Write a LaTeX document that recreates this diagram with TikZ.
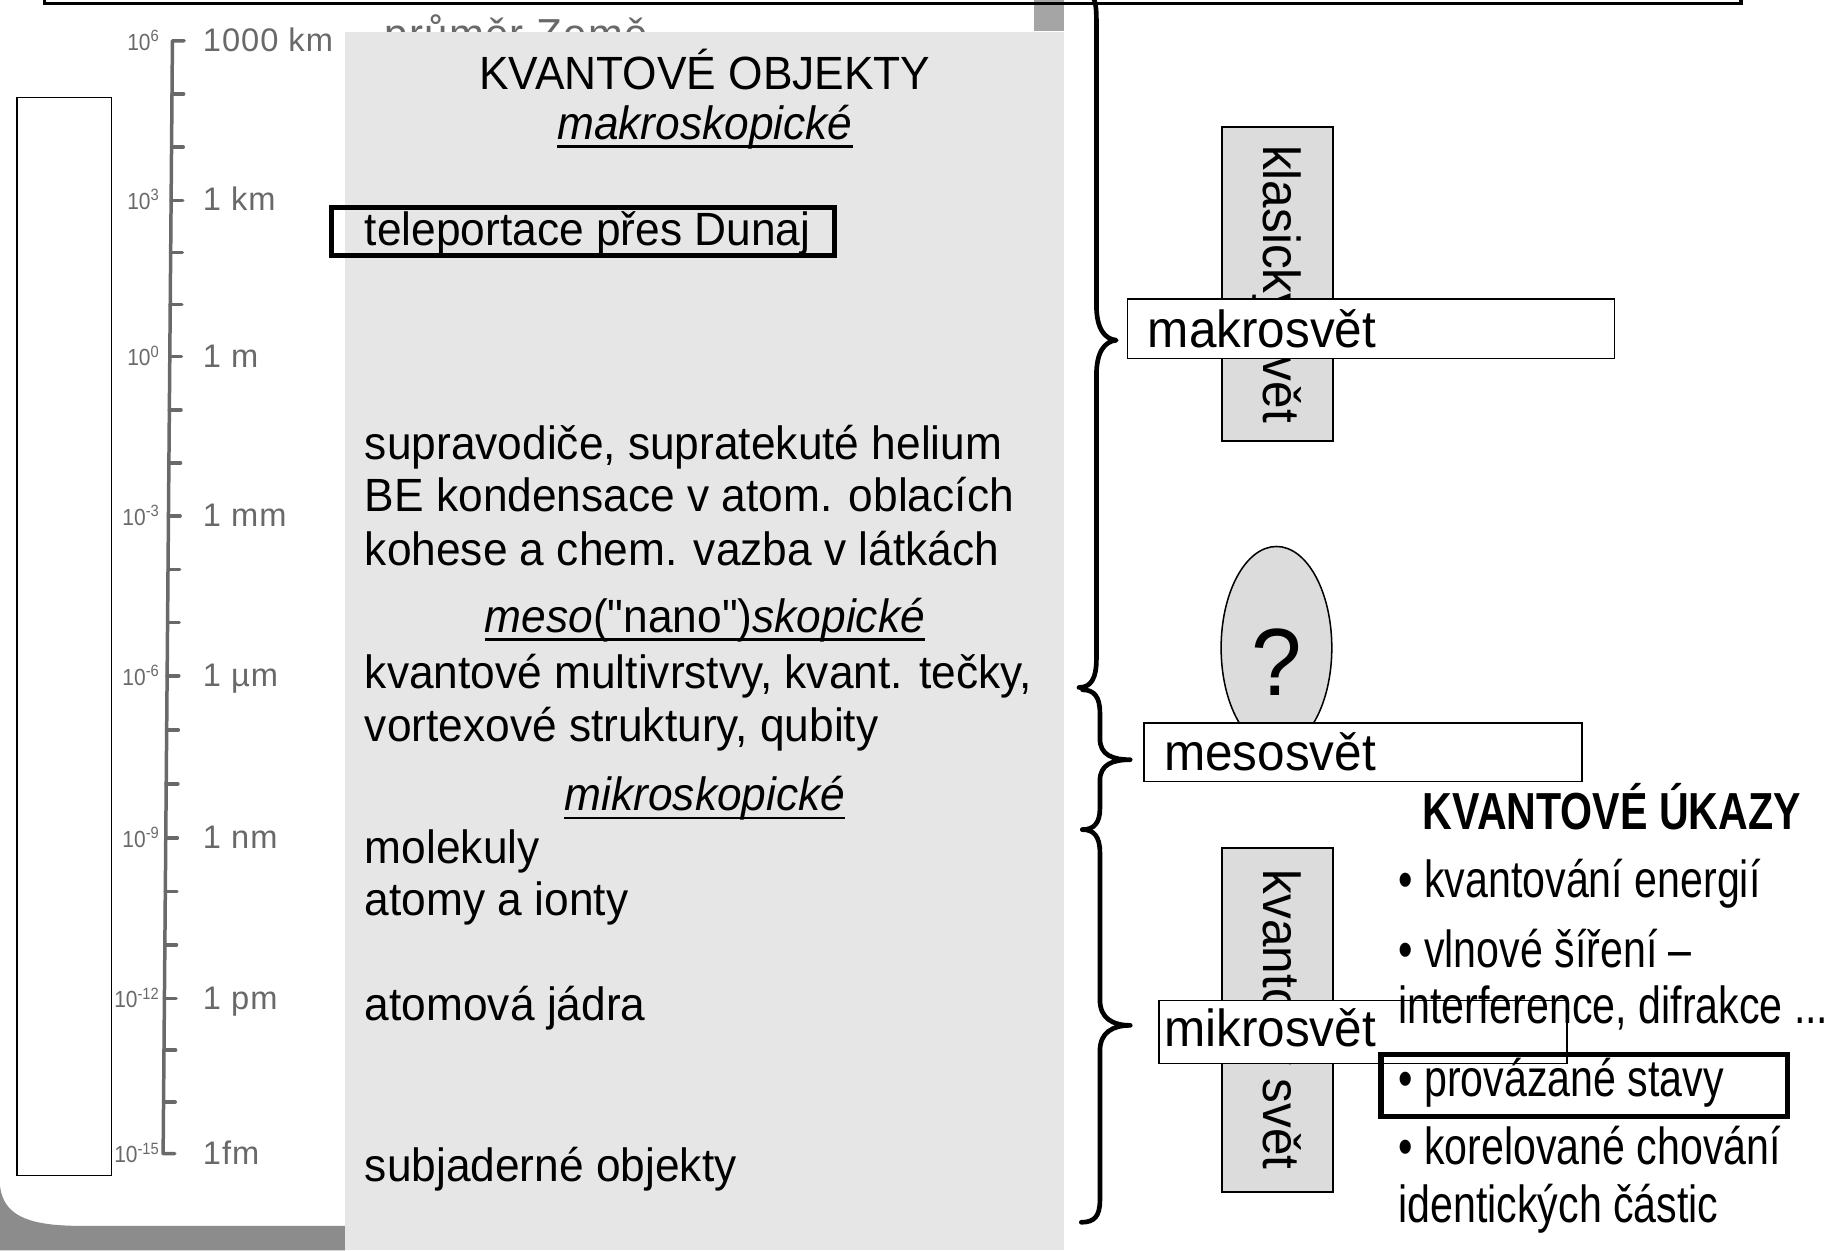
\documentclass[tikz,border=0pt]{standalone}
\usepackage{fontspec}
\setmainfont{Liberation Sans}
\newfontfamily\slidefont{Liberation Sans}[FakeStretch=0.95]
\newfontfamily\narrowfont{Liberation Sans}[FakeStretch=0.79]
\newfontfamily\handfont{Liberation Sans}[LetterSpace=3]
\newfontfamily\handexpfont{Liberation Sans}[FakeStretch=0.9]
\usetikzlibrary{shapes.geometric}

\definecolor{panelgray}{RGB}{230,230,230}
\definecolor{boxgray}{RGB}{220,220,220}
\definecolor{handgray}{RGB}{105,105,105}
\definecolor{edgegray}{RGB}{140,140,140}
\definecolor{stripgray}{RGB}{165,165,165}

\begin{document}
\begin{tikzpicture}[x=1pt, y=-1pt,
  paneltext/.style={font=\slidefont\fontsize{40}{45}\selectfont, anchor=base west, inner sep=0},
  panelhead/.style={paneltext, anchor=base},
  boxlabel/.style={font=\slidefont\fontsize{44.7}{50}\selectfont, anchor=base west, inner sep=0},
  listtext/.style={font=\narrowfont\fontsize{44.7}{50}\selectfont, anchor=base west, inner sep=0},
  verttext/.style={font=\slidefont\fontsize{44.7}{50}\selectfont, rotate=-90, inner sep=0},
  hand/.style={font=\handfont\fontsize{28}{28}\selectfont, text=handgray, inner sep=0},
  handexp/.style={font=\handexpfont\fontsize{20}{20}\selectfont, text=handgray, inner sep=0, anchor=base east},
  ruler/.style={draw=handgray, line width=3, line cap=round, line join=round},
  whitebox/.style={draw, fill=white, line width=1.3, anchor=north west, inner sep=0},
  graybox/.style={draw, fill=boxgray, line width=1.5, anchor=north west, inner sep=0},
  heavybox/.style={draw, line width=4.5, anchor=north west, inner sep=0},
  bracestroke/.style={line width=4, line cap=round, line join=round},
  underl/.style={line width=2.4}
]
\useasboundingbox (0,0) rectangle (1568,1073);
\fill[white] (0,0) rectangle (1568,1073);

% paper edge in the lower left corner
\fill[edgegray] (0,1018) .. controls (3,1042) and (22,1051) .. (62,1052)
  -- (296,1052) -- (296,1073) -- (0,1073) -- cycle;
\fill[stripgray] (887,0) rectangle (913,27);

% empty bar on the left
\node[draw, fill=white, line width=1.5, minimum width=81, minimum height=925,
      anchor=north west, inner sep=0] (leftbar) at (14,83) {};

% hand-drawn length scale
\node[hand, anchor=base west, font=\handfont\fontsize{36}{36}\selectfont] (earth) at (330,42) {průměr Země};
\draw[ruler] (158,35) -- (148,35) -- (140,990) -- (150,990);
\foreach \t in {80.7,126.3,172,216.7,261.3,306,351.7,397.3,443,488.7,534.3,580,626.3,672.7,719,765,811,857,901.3,945.7}
  \draw[ruler] ({148-8*(\t-35)/955},\t) -- ++(10,0);
\foreach \yy/\ee [count=\i] in {35/6,172/3,306/0,443/-3,580/-6,719/-9,857/-12,990/-15}
  \node[handexp] (exp\i) at (137,\yy+8) {10\textsuperscript{\ee}};
\foreach \yy/\uu [count=\i] in {35/1000 km,172/1 km,306/1 m,443/1 mm,580/1 µm,719/1 nm,857/1 pm,990/1fm}
  \node[hand, anchor=base west] (unit\i) at (174,\yy+9) {\uu};

% list of quantum objects
\node[fill=panelgray, minimum width=617, minimum height=1046, anchor=north west, inner sep=0] (panel) at (296,27) {};
\node[panelhead] (objhead) at (605,77) {KVANTOVÉ OBJEKTY};
\node[panelhead] (hmakro) at (605,120) {\itshape makroskopické};
\draw[underl] ([yshift=-6]hmakro.base west) -- ([yshift=-6]hmakro.base east);
\node[paneltext] (tele) at (313,211) {teleportace přes Dunaj};
\node[heavybox, minimum width=432, minimum height=41] (telebox) at (282,176) {};
\node[paneltext] (o1) at (313,394) {supravodiče, supratekuté helium};
\node[paneltext] (o2) at (313,439) {BE kondensace v atom. oblacích};
\node[paneltext] (o3) at (313,485) {kohese a chem. vazba v látkách};
\node[panelhead] (hmeso) at (605,543) {{\itshape meso}("nano"){\itshape skopické}};
\draw[underl] ([yshift=-6]hmeso.base west) -- ([yshift=-6]hmeso.base east);
\node[paneltext] (o4) at (313,591) {kvantové multivrstvy, kvant. tečky,};
\node[paneltext] (o5) at (313,636) {vortexové struktury, qubity};
\node[panelhead] (hmikro) at (605,696) {\itshape mikroskopické};
\draw[underl] ([yshift=-6]hmikro.base west) -- ([yshift=-6]hmikro.base east);
\node[paneltext] (o6) at (313,741) {molekuly};
\node[paneltext] (o7) at (313,786) {atomy a ionty};
\node[paneltext] (o8) at (313,876) {atomová jádra};
\node[paneltext] (o9) at (313,1014) {subjaderné objekty};

% frame edge along the top
\draw[line width=3] (38,-5) -- (38,3) -- (1494,3) -- (1494,-5);

% braces grouping the scale ranges
\draw[bracestroke] (930,-6) .. controls (940,-6) and (941,2) .. (941,20) -- (941,262)
  .. controls (941,282) and (948,291) .. (958,292)
  .. controls (948,293) and (941,302) .. (941,322) -- (941,565)
  .. controls (941,583) and (936,590) .. (926,590);
\draw[bracestroke] (929,592) .. controls (939,592) and (944,598) .. (944,612) -- (944,634)
  .. controls (944,648) and (955,652) .. (970,652)
  .. controls (955,652) and (944,656) .. (944,670) -- (944,694)
  .. controls (944,706) and (939,712) .. (929,712);
\draw[bracestroke] (929,712) .. controls (939,712) and (944,718) .. (944,732) -- (944,858)
  .. controls (944,874) and (955,880) .. (970,880)
  .. controls (955,880) and (944,886) .. (944,902) -- (944,1030)
  .. controls (944,1044) and (939,1049) .. (928,1049);

% classical / quantum world columns
\node[graybox, minimum width=95, minimum height=270] (klasbox) at (1048,108) {};
\node[verttext] (klastxt) at (klasbox.center) {klasický svět};
\node[graybox, minimum width=95, minimum height=295] (kvantbox) at (1048,727) {};
\node[verttext] (kvanttxt) at (kvantbox.center) {kvantový svět};
\node[ellipse, draw, fill=boxgray, line width=1.3, minimum width=95, minimum height=174, inner sep=0] (oval) at (1095.5,556) {};
\node[font=\slidefont\fontsize{82}{82}\selectfont, anchor=base, inner sep=0] (qmark) at (1096,597) {?};

% world labels
\node[whitebox, minimum width=418, minimum height=51] (makrobox) at (967,256) {};
\node[boxlabel] (makrotxt) at (985,298) {makrosvět};
\node[whitebox, minimum width=376, minimum height=50] (mesobox) at (981,620) {};
\node[boxlabel] (mesotxt) at (999,661) {mesosvět};
\node[whitebox, minimum width=350, minimum height=54] (mikrobox) at (994,858) {};
\node[boxlabel] (mikrotxt) at (999,898) {mikrosvět};

% quantum phenomena
\node[listtext] (ukazy) at (1221,712) {\bfseries KVANTOVÉ ÚKAZY};
\node[listtext] (u1) at (1200,770) {• kvantování energií};
\node[listtext] (u2) at (1200,830) {• vlnové šíření –};
\node[listtext] (u3) at (1200,878) {interference, difrakce ...};
\node[listtext] (u4) at (1200,941) {• provázané stavy};
\node[heavybox, minimum width=349, minimum height=53] (entbox) at (1183,903) {};
\node[listtext] (u5) at (1200,999) {• korelované chování};
\node[listtext] (u6) at (1200,1049) {identických částic};
\end{tikzpicture}
\end{document}
